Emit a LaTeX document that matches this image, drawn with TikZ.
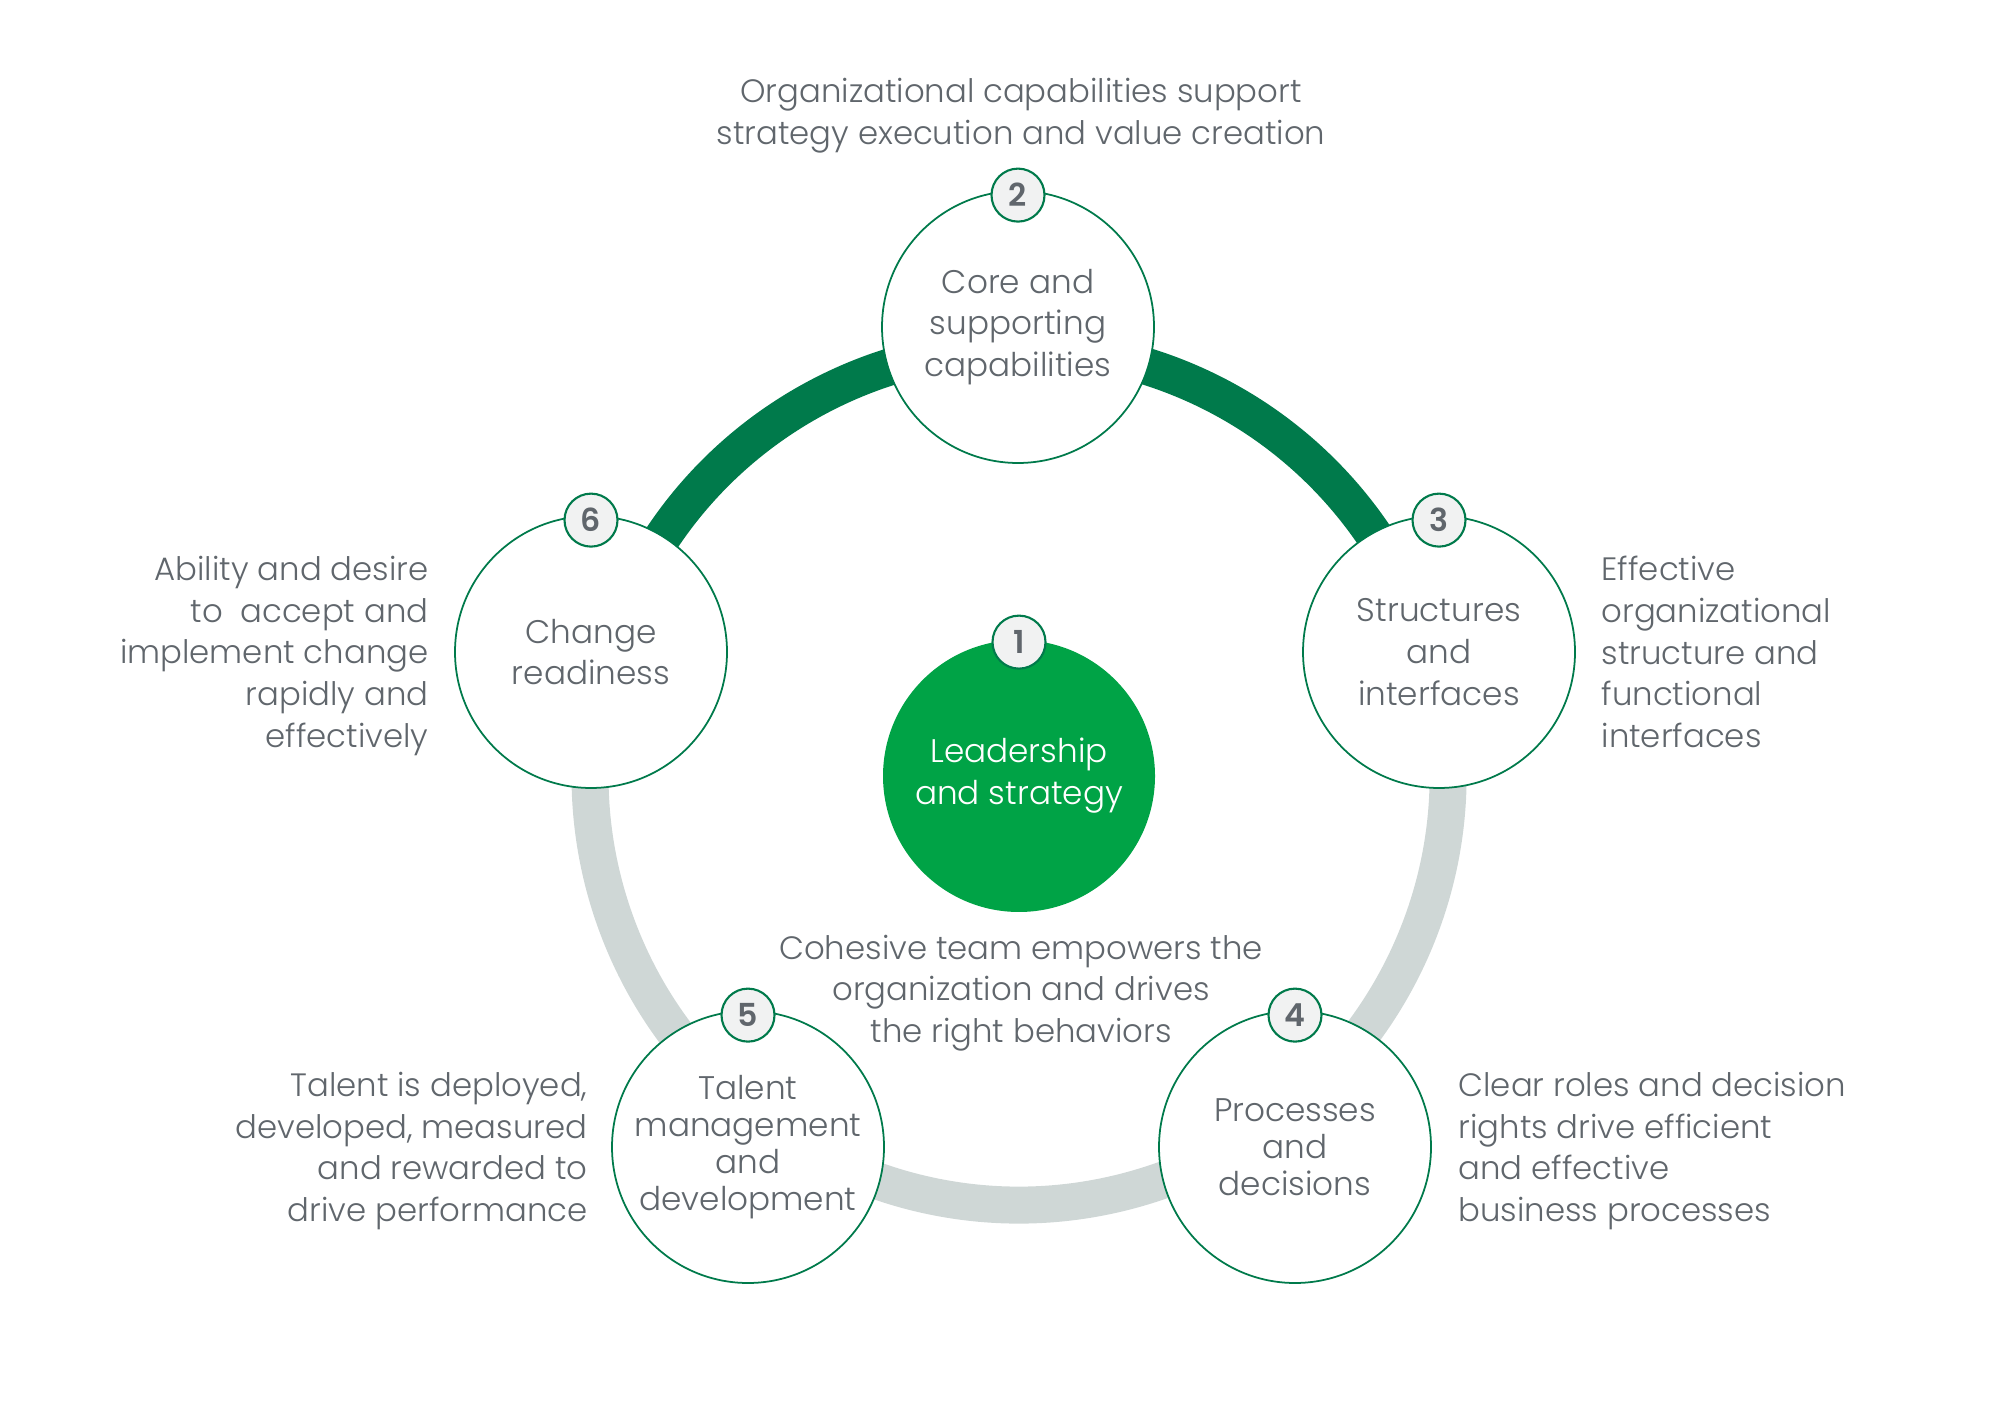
\documentclass[tikz,border=0pt]{standalone}
\usepackage{fontspec}
\setmainfont{Poppins}[UprightFont=* Light, BoldFont=* SemiBold]
\usetikzlibrary{positioning}
\definecolor{darkgreen}{RGB}{0,122,75}
\definecolor{leafgreen}{RGB}{0,163,70}
\definecolor{ringgray}{RGB}{207,215,214}
\definecolor{badgegray}{RGB}{241,242,242}
\definecolor{textgray}{RGB}{96,102,108}

\begin{document}
\begin{tikzpicture}[
      area/.style = {circle, draw=darkgreen, line width=0.5pt, fill=white, minimum size=2.72cm,
                     inner sep=0pt, align=center, text=textgray, font=\fontsize{9.3}{11.9}\selectfont},
      tight/.style = {font=\fontsize{9.3}{10.5}\selectfont},
      badge/.style = {circle, draw=darkgreen, line width=0.6pt, fill=badgegray, minimum size=0.53cm,
                      inner sep=0pt, text=textgray, font=\fontsize{9}{9}\selectfont\bfseries},
      note/.style = {text=textgray, inner sep=0pt, font=\fontsize{9.2}{11.9}\selectfont}
    ]
              \useasboundingbox (0,0) rectangle (19.98,14.2);
              \coordinate (hub) at (10.19,6.44);

              \draw [ringgray, line width=0.37cm] (hub) ++(17:4.29) arc (17:-197:4.29);
              \draw [darkgreen, line width=0.37cm] (hub) ++(163:4.29) arc (163:17:4.29);

              \node [area, fill=leafgreen, draw=none, text=white] (lead) at (hub) {Leadership\\and strategy};
              \node [area] (core) at (10.18,10.93) {Core and\\supporting\\capabilities};
              \node [area] (struct) at (14.39,7.68) {Structures\\and\\interfaces};
              \node [area, tight] (proc) at (12.95,2.73) {Processes\\and\\decisions};
              \node [area, tight] (talent) at (7.48,2.73) {Talent\\management\\and\\development};
              \node [area] (change) at (5.91,7.68) {Change\\readiness};

              \node [badge] (b1) at ([yshift=-0.03cm]lead.north) {1};
              \node [badge] (b2) at ([yshift=-0.05cm]core.north) {2};
              \node [badge] (b3) at ([yshift=-0.05cm]struct.north) {3};
              \node [badge] (b4) at ([yshift=-0.05cm]proc.north) {4};
              \node [badge] (b5) at ([yshift=-0.05cm]talent.north) {5};
              \node [badge] (b6) at ([yshift=-0.05cm]change.north) {6};

              \node [note, align=center] (corenote) at (10.21,13.04) {Organizational capabilities support\\strategy execution and value creation};
              \node [note, align=center] (leadnote) at (10.21,4.27) {Cohesive team empowers the\\organization and drives\\the right behaviors};
              \node [note, align=left, right=0.25cm of struct] (structnote) {Effective\\organizational\\structure and\\functional\\interfaces};
              \node [note, align=right, left=0.25cm of change, yshift=-0.04cm] (changenote) {Ability and desire\\to\ \ accept and\\implement change\\rapidly and\\effectively};
              \node [note, align=left, right=0.26cm of proc, yshift=-0.04cm] (procnote) {Clear roles and decision\\rights drive efficient\\and effective\\business processes};
              \node [note, align=right, left=0.23cm of talent, yshift=-0.04cm] (talentnote) {Talent is deployed,\\developed, measured\hspace*{0.1cm}\\and rewarded to\hspace*{0.1cm}\\drive performance};
\end{tikzpicture}
\end{document}
